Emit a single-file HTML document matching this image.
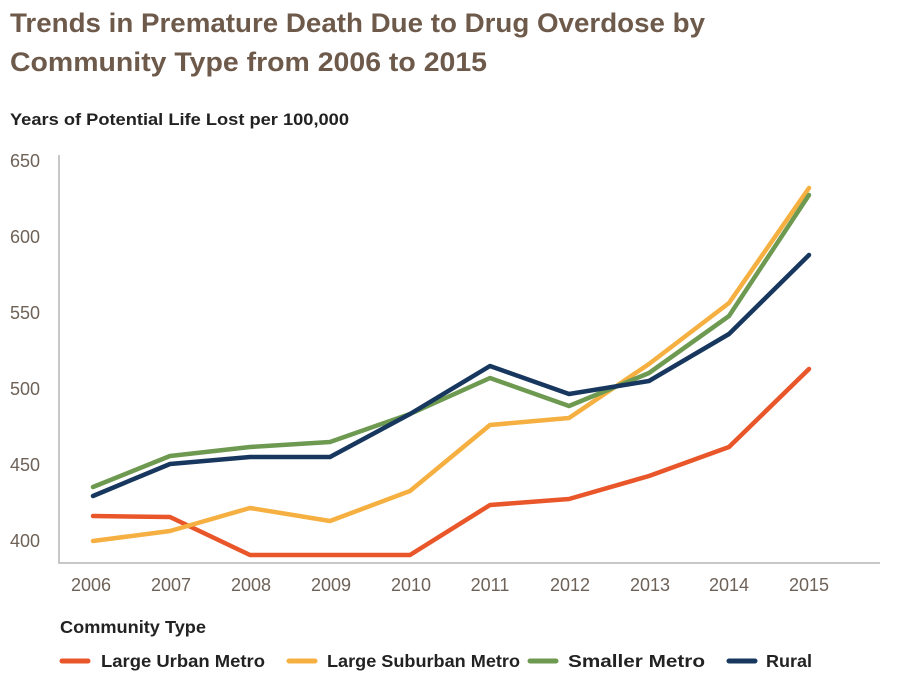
<!DOCTYPE html>
<html><head><meta charset="utf-8"><style>
body{margin:0;background:#fff;width:897px;height:689px;overflow:hidden;font-family:"Liberation Sans",sans-serif}
</style></head><body>
<svg width="897" height="689" xmlns="http://www.w3.org/2000/svg" font-family="Liberation Sans, sans-serif">
<text x="10" y="32" font-size="27" font-weight="bold" fill="#6e5a4b" textLength="695" lengthAdjust="spacingAndGlyphs">Trends in Premature Death Due to Drug Overdose by</text>
<text x="10" y="71" font-size="27" font-weight="bold" fill="#6e5a4b" textLength="477" lengthAdjust="spacingAndGlyphs">Community Type from 2006 to 2015</text>
<text x="10" y="125" font-size="16.5" font-weight="bold" fill="#222" textLength="339" lengthAdjust="spacingAndGlyphs">Years of Potential Life Lost per 100,000</text>
<g font-size="18" fill="#6e6258" text-anchor="start">
<text x="10" y="167">650</text><text x="10" y="243">600</text><text x="10" y="319">550</text>
<text x="10" y="395">500</text><text x="10" y="471">450</text><text x="10" y="547">400</text>
</g>
<g font-size="18" fill="#6e6258" text-anchor="middle">
<text x="91" y="591">2006</text><text x="171" y="591">2007</text><text x="251" y="591">2008</text><text x="331" y="591">2009</text><text x="411" y="591">2010</text><text x="490" y="591">2011</text><text x="570" y="591">2012</text><text x="650" y="591">2013</text><text x="729" y="591">2014</text><text x="809" y="591">2015</text>
</g>
<path d="M59 155V563H880" fill="none" stroke="#b5b5b5" stroke-width="1.5"/>
<g fill="none" stroke-width="4.5" stroke-linejoin="round" stroke-linecap="round">
<polyline stroke="#e8562a" points="93,516 170,517 250,555 330,555 410,555 490,505 569,499 649,476 729,447 809,369"/>
<polyline stroke="#f5b041" points="93,541 170,531 250,508 330,521 410,491 490,425 569,418 649,364 729,303 809,188"/>
<polyline stroke="#6d9a50" points="93,487 170,456 250,447 330,442 410,414 490,378 569,406 649,373 729,316 809,195"/>
<polyline stroke="#17375e" points="93,496 170,464 250,457 330,457 410,414 490,366 569,394 649,381 729,334 809,255"/>
</g>
<text x="60" y="633" font-size="17.5" font-weight="bold" fill="#222" textLength="146" lengthAdjust="spacingAndGlyphs">Community Type</text>
<g stroke-width="5" stroke-linecap="round">
<line x1="62" y1="661" x2="88" y2="661" stroke="#e8562a"/>
<line x1="289" y1="661" x2="315" y2="661" stroke="#f5b041"/>
<line x1="530" y1="661" x2="556" y2="661" stroke="#6d9a50"/>
<line x1="729" y1="661" x2="755" y2="661" stroke="#17375e"/>
</g>
<g font-size="17.5" font-weight="bold" fill="#222">
<text x="101" y="667" textLength="164" lengthAdjust="spacingAndGlyphs">Large Urban Metro</text>
<text x="327" y="667" textLength="193" lengthAdjust="spacingAndGlyphs">Large Suburban Metro</text>
<text x="568" y="667" textLength="137" lengthAdjust="spacingAndGlyphs">Smaller Metro</text>
<text x="766" y="667" textLength="46" lengthAdjust="spacingAndGlyphs">Rural</text>
</g>
</svg>
</body></html>
